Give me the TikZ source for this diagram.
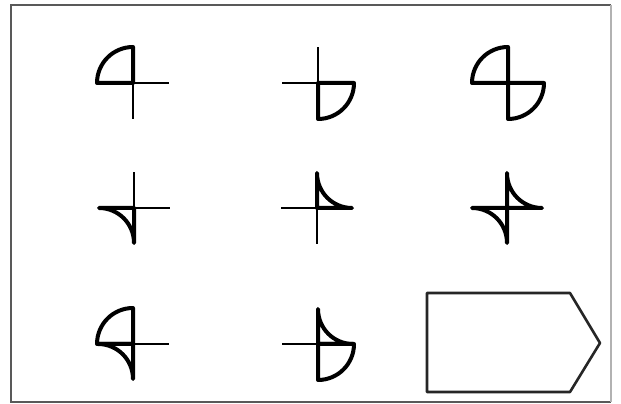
\documentclass[tikz,border=0pt]{standalone}
\begin{document}
\begin{tikzpicture}[x=1pt,y=1pt,
  thinline/.style={line width=2.4pt,black},
  thickline/.style={line width=4pt,black,line join=round},
  framebox/.style={line width=2pt,black!65},
  pentbox/.style={line width=2.6pt,black!85,line join=round},
  crossmark/.pic={\draw[thinline] (-36,0)--(36,0) (0,-36)--(0,36);},
  convexUL/.pic={\draw[thickline] (0,0) -- (-36,0) arc[start angle=180,end angle=90,radius=36] -- cycle;},
  convexLR/.pic={\draw[thickline] (0,0) -- (36,0) arc[start angle=0,end angle=-90,radius=36] -- cycle;},
  concaveLL/.pic={\draw[thickline] (0,0) -- (-35,0) arc[start angle=90,end angle=0,radius=35] -- cycle;},
  concaveUR/.pic={\draw[thickline] (0,0) -- (0,35) arc[start angle=180,end angle=270,radius=35] -- cycle;}
]
\useasboundingbox (0,0) rectangle (621,404);
\coordinate (fbl) at (11,2);
\coordinate (fbr) at (611,2);
\coordinate (ftr) at (611,399);
\coordinate (ftl) at (11,399);
\draw[framebox] (ftr) -- (ftl) -- (fbl) -- (fbr);
\draw[framebox,black!30,line width=1.2pt] (fbr) -- (ftr);
% centres
\coordinate (a1) at (133,321);
\coordinate (a2) at (318,321);
\coordinate (a3) at (508,321);
\coordinate (b1) at (134,196);
\coordinate (b2) at (317,196);
\coordinate (b3) at (507,196);
\coordinate (c1) at (133,60);
\coordinate (c2) at (318,60);
% row 1
\pic at (a1) {crossmark}; \pic at (a1) {convexUL};
\pic at (a2) {crossmark}; \pic at (a2) {convexLR};
\pic at (a3) {crossmark}; \pic at (a3) {convexUL}; \pic at (a3) {convexLR};
% row 2
\pic at (b1) {crossmark}; \pic at (b1) {concaveLL};
\pic at (b2) {crossmark}; \pic at (b2) {concaveUR};
\pic at (b3) {crossmark}; \pic at (b3) {concaveUR}; \pic at (b3) {concaveLL};
% row 3
\pic at (c1) {crossmark}; \pic at (c1) {convexUL}; \pic at (c1) {concaveLL};
\pic at (c2) {crossmark}; \pic at (c2) {concaveUR}; \pic at (c2) {convexLR};
% pentagon
\draw[pentbox] (427,12) -- (427,111) -- (570,111) -- (600,61) -- (570,12) -- cycle;
\end{tikzpicture}
\end{document}
